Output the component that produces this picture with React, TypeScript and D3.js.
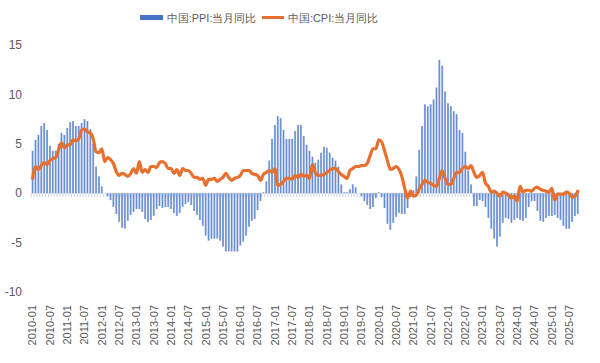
import * as d3 from 'd3';

// monthly, 2010-01 .. 2025-10
const years = d3.range(2010, 2026);
const months = years.flatMap((y) =>
  d3.range(1, 13).map((m) => `${y}-${String(m).padStart(2, '0')}`)
).slice(0, 190);

const ppi = [
  4.3, 5.4, 5.9, 6.8, 7.1, 6.4, 4.8, 4.3, 4.3, 5.0, 6.1, 5.9,
  6.6, 7.2, 7.3, 6.8, 6.8, 7.1, 7.5, 7.3, 6.5, 5.0, 2.7, 1.7,
  0.7, 0.0, -0.3, -0.7, -1.4, -2.1, -2.9, -3.5, -3.6, -2.8, -2.2, -1.9,
  -1.6, -1.6, -1.9, -2.6, -2.9, -2.7, -2.3, -1.6, -1.3, -1.5, -1.4, -1.4,
  -1.6, -2.0, -2.3, -2.0, -1.4, -1.1, -0.9, -1.2, -1.8, -2.2, -2.7, -3.3,
  -4.3, -4.8, -4.6, -4.6, -4.6, -4.8, -5.4, -5.9, -5.9, -5.9, -5.9, -5.9,
  -5.3, -4.9, -4.3, -3.4, -2.8, -2.6, -1.7, -0.8, 0.1, 1.2, 3.3, 5.5,
  6.9, 7.8, 7.6, 6.4, 5.5, 5.5, 5.5, 6.3, 6.9, 6.9, 5.8, 4.9,
  4.3, 3.7, 3.1, 3.4, 4.1, 4.7, 4.6, 4.1, 3.6, 3.3, 2.7, 0.9,
  0.1, 0.1, 0.4, 0.9, 0.6, 0.0, -0.3, -0.8, -1.2, -1.6, -1.4, -0.5,
  0.1, -0.4, -1.5, -3.1, -3.7, -3.0, -2.4, -2.0, -2.1, -2.1, -1.5, -0.4,
  0.3, 1.7, 4.4, 6.8, 9.0, 8.8, 9.0, 9.5, 10.7, 13.5, 12.9, 10.3,
  9.1, 8.8, 8.3, 8.0, 6.4, 6.1, 4.2, 2.3, 0.9, -1.3, -1.3, -0.7,
  -0.8, -1.4, -2.5, -3.6, -4.6, -5.4, -4.4, -3.0, -2.5, -2.6, -3.0, -2.7,
  -2.5, -2.7, -2.8, -2.5, -1.4, -0.8, -0.8, -1.8, -2.8, -2.9, -2.5, -2.3,
  -2.3, -2.2, -2.5, -2.7, -3.3, -3.6, -3.6, -2.9, -2.3, -2.1,
];

const cpi = [
  1.5, 2.7, 2.4, 2.8, 3.1, 2.9, 3.3, 3.5, 3.6, 4.4, 5.1, 4.6,
  4.9, 4.9, 5.4, 5.3, 5.5, 6.4, 6.5, 6.2, 6.1, 5.5, 4.2, 4.1,
  4.5, 3.2, 3.6, 3.4, 3.0, 2.2, 1.8, 2.0, 1.9, 1.7, 2.0, 2.5,
  2.0, 3.2, 2.1, 2.4, 2.1, 2.7, 2.7, 2.6, 3.1, 3.2, 3.0, 2.5,
  2.5, 2.0, 2.4, 1.8, 2.5, 2.3, 2.3, 2.0, 1.6, 1.6, 1.4, 1.5,
  0.8, 1.4, 1.4, 1.5, 1.2, 1.4, 1.6, 2.0, 1.6, 1.3, 1.5, 1.6,
  1.8, 2.3, 2.3, 2.3, 2.0, 1.9, 1.8, 1.3, 1.9, 2.1, 2.3, 2.1,
  2.5, 0.8, 0.9, 1.2, 1.5, 1.5, 1.4, 1.8, 1.6, 1.9, 1.7, 1.8,
  1.5, 2.9, 2.1, 1.8, 1.8, 1.9, 2.1, 2.3, 2.5, 2.5, 2.2, 1.9,
  1.7, 1.5, 2.3, 2.5, 2.7, 2.7, 2.8, 2.8, 3.0, 3.8, 4.5, 4.5,
  5.4, 5.2, 4.3, 3.3, 2.4, 2.5, 2.7, 2.4, 1.7, 0.5, -0.5, 0.2,
  -0.3, -0.2, 0.4, 0.9, 1.3, 1.1, 1.0, 0.8, 0.7, 1.5, 2.3, 1.5,
  0.9, 0.9, 1.5, 2.1, 2.1, 2.5, 2.7, 2.5, 2.8, 2.1, 1.6, 1.8,
  2.1, 1.0, 0.7, 0.1, 0.2, 0.0, -0.3, 0.1, 0.0, -0.2, -0.5, -0.3,
  -0.8, 0.7, 0.1, 0.3, 0.3, 0.2, 0.5, 0.6, 0.4, 0.3, 0.2, 0.1,
  0.5, -0.7, -0.1, -0.1, -0.1, 0.1, 0.0, -0.4, -0.3, 0.2,
];

const yTicks = [-10, -5, 0, 5, 10, 15];
const xTickLabels = months.filter((m) => m.endsWith('-01') || m.endsWith('-07'));

const width = 600;
const height = 363;
const gray = '#595959';
const font = '"Liberation Sans", Arial, sans-serif';

export default function App() {
  const x = d3.scaleBand().domain(months).range([31.6, 578.8]).paddingInner(0.3);
  const y = d3.scaleLinear().domain([-10, 15]).range([292, 45]);

  const line = d3
    .line<number>()
    .x((_, i) => x(months[i])! + x.bandwidth() / 2)
    .y((d) => y(d))
    .curve(d3.curveMonotoneX);

  return (
    <svg
      width={width}
      height={height}
      style={{ position: 'absolute', left: 0, top: 0, background: '#fff' }}
      fontFamily={font}
    >
      <defs>
        <linearGradient id="barPos" x1="0" y1="0" x2="1" y2="0">
          <stop offset="0" stopColor="#98b1e0" />
          <stop offset="0.5" stopColor="#6389cf" />
          <stop offset="1" stopColor="#98b1e0" />
        </linearGradient>
      </defs>

      {/* legend */}
      <rect x={140} y={15} width={23} height={5} fill="#4472c4" />
      <text x={167} y={21.5} fontSize={11} fill={gray} textLength={89} lengthAdjust="spacingAndGlyphs">
        中国:PPI:当月同比
      </text>
      <line x1={262} x2={284} y1={17.5} y2={17.5} stroke="#e8702e" strokeWidth={3} />
      <text x={288} y={21.5} fontSize={11} fill={gray} textLength={90} lengthAdjust="spacingAndGlyphs">
        中国:CPI:当月同比
      </text>

      {/* y labels */}
      {yTicks.map((t) => (
        <text key={t} x={22} y={y(t)} dy="0.35em" textAnchor="end" fontSize={12} fill={gray}>
          {t}
        </text>
      ))}

      {/* month ticks along zero */}
      {months.map((m) => (
        <line
          key={m}
          x1={x(m)! - (x.step() - x.bandwidth()) / 2}
          x2={x(m)! - (x.step() - x.bandwidth()) / 2}
          y1={y(0)}
          y2={y(0) + 4}
          stroke="#cfd7ea"
          strokeWidth={1}
        />
      ))}
      <line x1={31.6} x2={578.8} y1={y(0)} y2={y(0)} stroke="#d9d9d9" strokeWidth={0.8} />

      {/* PPI bars */}
      {ppi.map((v, i) => (
        <rect
          key={i}
          x={x(months[i])}
          width={x.bandwidth()}
          y={Math.min(y(v), y(0))}
          height={Math.abs(y(v) - y(0))}
          fill="url(#barPos)"
        />
      ))}

      {/* CPI line */}
      <path
        d={line(cpi) ?? ''}
        fill="none"
        stroke="#e8702e"
        strokeWidth={3.2}
        strokeLinejoin="round"
        strokeLinecap="round"
      />

      {/* x labels */}
      {xTickLabels.map((m) => {
        const cx = x(m)! + x.bandwidth() / 2;
        return (
          <text
            key={m}
            transform={`translate(${cx},305) rotate(-90)`}
            dy="0.35em"
            textAnchor="end"
            fontSize={11}
            fill={gray}
          >
            {m}
          </text>
        );
      })}
    </svg>
  );
}
